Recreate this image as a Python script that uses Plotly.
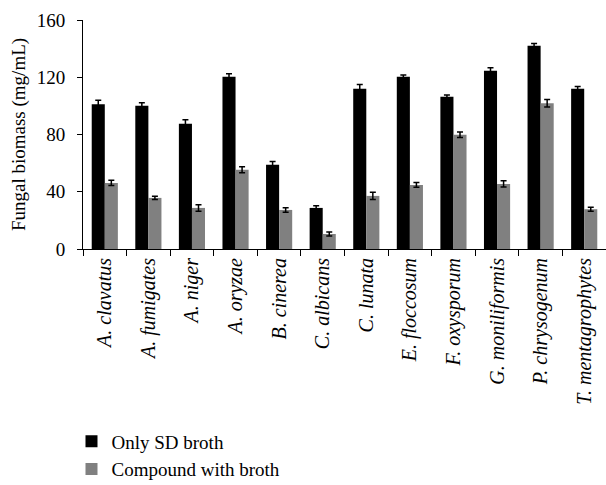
import plotly.graph_objects as go

categories = ["A. clavatus", "A. fumigates", "A. niger", "A. oryzae", "B. cinerea",
              "C. albicans", "C. lunata", "E. floccosum", "F. oxysporum",
              "G. moniliformis", "P. chrysogenum", "T. mentagrophytes"]
only_sd = [101.2, 100.1, 87.5, 120.3, 58.8, 28.7, 112.0, 120.3, 106.4, 124.5, 142.0, 112.0]
only_sd_err = [2.8, 2.1, 2.8, 2.1, 2.3, 1.6, 3.0, 1.2, 1.2, 2.1, 1.6, 1.6]
compound = [46.2, 35.7, 28.7, 55.3, 27.3, 10.5, 37.1, 44.8, 79.8, 45.5, 101.9, 27.8]
compound_err = [1.9, 1.2, 2.3, 2.1, 1.6, 1.4, 2.6, 1.6, 1.9, 2.1, 2.6, 1.4]
y_ticks = [0, 40, 80, 120, 160]

FONT = "Liberation Serif, Times New Roman, serif"

fig = go.Figure()
fig.add_trace(go.Bar(
    x=categories, y=only_sd, name="Only SD broth",
    marker=dict(color="#000000", line=dict(width=0)),
    error_y=dict(type="data", array=only_sd_err, color="#000000", thickness=1.5, width=3),
))
fig.add_trace(go.Bar(
    x=categories, y=compound, name="Compound with broth",
    marker=dict(color="#808080", line=dict(width=0)),
    error_y=dict(type="data", array=compound_err, color="#000000", thickness=1.5, width=3),
))

fig.update_layout(
    width=606, height=485,
    margin=dict(l=83, r=0, t=20, b=236, autoexpand=False),
    paper_bgcolor="white", plot_bgcolor="white",
    barmode="group", bargap=0.4, bargroupgap=0,
    font=dict(family=FONT, color="#000000", size=19),
    showlegend=True,
    legend=dict(x=-0.022, xanchor="left", y=-0.757, yanchor="top",
                font=dict(family=FONT, size=19, color="#000000"),
                bgcolor="rgba(0,0,0,0)", tracegroupgap=0),
)
fig.update_xaxes(
    type="category", showline=True, linecolor="#000000", linewidth=1,
    ticks="outside", tickson="boundaries", ticklen=6, tickcolor="#000000",
    tickangle=-90, tickfont=dict(family=FONT, size=20, style="italic"),
    showgrid=False, zeroline=False, automargin=False,
)
fig.update_yaxes(
    range=[0, 160], tickvals=y_ticks, showline=True, linecolor="#000000", linewidth=1,
    ticks="outside", ticklen=5, tickcolor="#000000", ticklabelstandoff=8,
    tickfont=dict(family=FONT, size=19),
    showgrid=False, zeroline=False, automargin=False,
    title=dict(text="Fungal biomass (mg/mL)", font=dict(family=FONT, size=19), standoff=6),
)

fig.write_html("out.html", config={"displayModeBar": False},
               post_script="document.body.style.margin='0';")
